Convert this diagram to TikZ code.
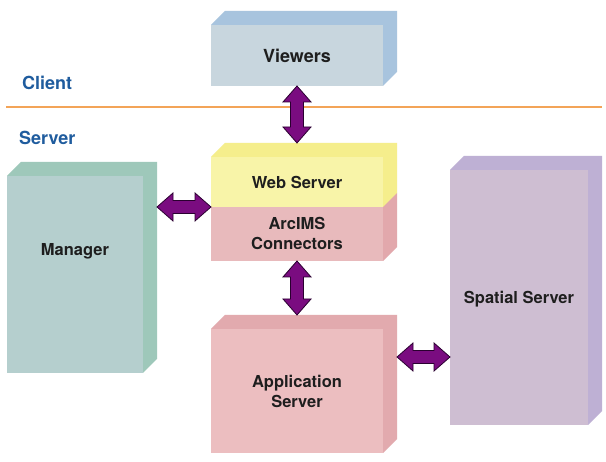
\documentclass[tikz,border=0pt]{standalone}
\usepackage{fontspec}
\setmainfont{TeX Gyre Heros}
\usetikzlibrary{calc}
\definecolor{viewF}{HTML}{C8D6DE}\definecolor{viewS}{HTML}{A8C4DE}
\definecolor{manF}{HTML}{B5CFCE}\definecolor{manS}{HTML}{9EC8BA}
\definecolor{webF}{HTML}{F8F4A8}\definecolor{webS}{HTML}{F5EE8C}
\definecolor{arcF}{HTML}{E8BABC}\definecolor{arcS}{HTML}{E2A8AC}
\definecolor{appF}{HTML}{ECBEC0}\definecolor{appS}{HTML}{E2AAAE}
\definecolor{spaF}{HTML}{CEBED2}\definecolor{spaS}{HTML}{BEB0D4}
\definecolor{tierblue}{HTML}{1F5C9E}
\definecolor{lineorange}{HTML}{F3A458}
\definecolor{arrowfill}{HTML}{7A0C80}
\definecolor{arrowline}{HTML}{2A0030}
\definecolor{labeltext}{HTML}{1E1E1E}
\tikzset{
  boxface/.style={inner sep=0pt, outer sep=0pt, draw=none},
  lbl/.style={font=\fontsize{16.5}{20}\selectfont\bfseries, text=labeltext, align=center, inner sep=0pt},
  biglbl/.style={font=\fontsize{18}{21}\selectfont\bfseries, text=labeltext, inner sep=0pt},
  tier/.style={font=\fontsize{18}{21}\selectfont\bfseries, text=tierblue, inner sep=0pt, anchor=west},
  fat/.style={fill=arrowfill, draw=arrowline, line width=0.8pt, line join=miter}
}
% name, cx, cy, w, h, front, side
\newcommand\cube[7]{%
  \node[boxface, fill=#6, minimum width=#4pt, minimum height=#5pt] (#1) at (#2,#3) {};
  \fill[#7] (#1.north west) -- ++(14,-14) -- ++(#4,0) -- ++(0,#5) -- (#1.south east) -- (#1.north east) -- cycle;
}
\newcommand\vfat[2]{%
  \filldraw[fat] let \p1=#1, \p2=#2 in
  (\x1,\y1) -- (\x1+14pt,\y1-16pt) -- (\x1+6.5pt,\y1-16pt) -- (\x1+6.5pt,\y2+16pt) -- (\x1+14pt,\y2+16pt)
  -- (\x1,\y2) -- (\x1-14pt,\y2+16pt) -- (\x1-6.5pt,\y2+16pt) -- (\x1-6.5pt,\y1-16pt) -- (\x1-14pt,\y1-16pt) -- cycle;
}
\newcommand\hfat[2]{%
  \filldraw[fat] let \p1=#1, \p2=#2 in
  (\x1,\y1) -- (\x1+16pt,\y1+14pt) -- (\x1+16pt,\y1+6.5pt) -- (\x2-16pt,\y1+6.5pt) -- (\x2-16pt,\y1+14pt)
  -- (\x2,\y1) -- (\x2-16pt,\y1-14pt) -- (\x2-16pt,\y1-6.5pt) -- (\x1+16pt,\y1-6.5pt) -- (\x1+16pt,\y1-14pt) -- cycle;
}
\begin{document}
\begin{tikzpicture}[x=1pt, y=-1pt]
\useasboundingbox (0,0) rectangle (606,462);
\fill[white] (0,0) rectangle (606,462);

% tiers
\node[tier] (client) at (22,83) {Client};
\node[tier] (server) at (19,138) {Server};
\coordinate (lineL) at (6,107.5);
\coordinate (lineR) at (602,107.5);
\draw[lineorange, line width=2pt] (lineL) -- (lineR);

% boxes
\cube{viewers}{297}{55.5}{172}{61}{viewF}{viewS}
\cube{manager}{75}{274.5}{136}{197}{manF}{manS}
\cube{arcims}{297}{234}{172}{54}{arcF}{arcS}
\cube{web}{297}{182}{172}{50}{webF}{webS}
\cube{spatial}{519}{297.5}{138}{255}{spaF}{spaS}
\cube{app}{297}{391}{172}{124}{appF}{appS}

% labels
\node[biglbl, anchor=base] (tviewers) at ($(viewers.center)+(0,7.5)$) {Viewers};
\node[lbl] (tweb) at (web.center) {Web Server};
\node[lbl] (tarc) at ($(arcims.center)+(0,-1)$) {ArcIMS\\Connectors};
\node[lbl, anchor=base] (tman) at ($(manager.north)+(0,80)$) {Manager};
\node[lbl, anchor=base] (tspa) at ($(spatial.center)+(0,6.5)$) {Spatial Server};
\node[lbl] (tapp) at (app.center) {Application\\Server};

% arrows
\vfat{(viewers.south)}{($(web.north)+(0,-14)$)}
\hfat{($(manager.east |- web.south)+(14,0)$)}{(web.south west)}
\vfat{(arcims.south)}{($(app.north)+(0,-14)$)}
\hfat{($(app.north east)+(14,28)$)}{(spatial.west)}
\end{tikzpicture}
\end{document}
